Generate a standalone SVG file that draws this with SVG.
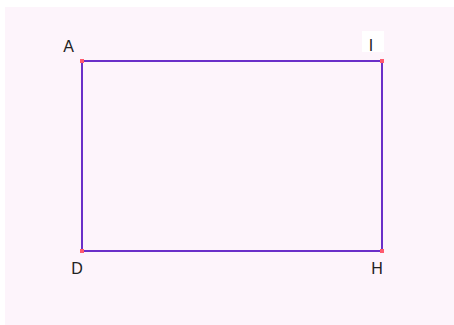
<svg xmlns="http://www.w3.org/2000/svg" width="454" height="325" viewBox="0 0 454 325">
<style>
.lbl{font-family:"Liberation Sans","DejaVu Sans",sans-serif;font-size:16px;fill:#222}
.edge{stroke:#6a2fc8;stroke-width:2;fill:none}
.pt{fill:#ff5a6e}
</style>
<rect x="0" y="0" width="454" height="325" fill="#ffffff"/>
<rect x="5" y="7" width="449" height="318" fill="#fdf4fb"/>
<g id="connectors">
<line class="edge" x1="82" y1="61" x2="382" y2="61"/>
<line class="edge" x1="382" y1="61" x2="382" y2="251"/>
<line class="edge" x1="382" y1="251" x2="82" y2="251"/>
<line class="edge" x1="82" y1="251" x2="82" y2="61"/>
</g>
<g id="A"><rect class="pt" x="80" y="59" width="4" height="4"/><text class="lbl" x="68.5" y="52" text-anchor="middle">A</text></g>
<g id="I"><rect x="362" y="31" width="22" height="21" fill="#ffffff"/><rect class="pt" x="380" y="59" width="4" height="4"/><text class="lbl" x="371" y="51" text-anchor="middle">I</text></g>
<g id="D"><rect class="pt" x="80" y="249" width="4" height="4"/><text class="lbl" x="77" y="274" text-anchor="middle">D</text></g>
<g id="H"><rect class="pt" x="380" y="249" width="4" height="4"/><text class="lbl" x="377" y="274" text-anchor="middle">H</text></g>
</svg>
